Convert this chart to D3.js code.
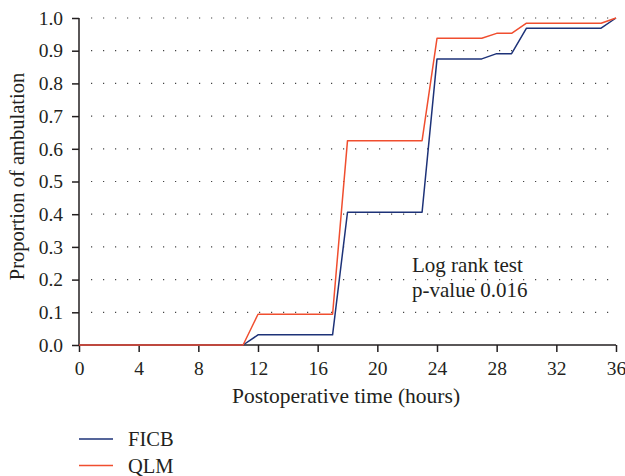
<!DOCTYPE html>
<html><head><meta charset="utf-8">
<script src="https://cdn.jsdelivr.net/npm/d3@7"></script>
<style>body{margin:0;background:#fff}svg{display:block}text{font-family:"Liberation Serif","DejaVu Serif",serif;fill:#231f20}</style>
</head><body><svg id="c" width="625" height="476"></svg>
<script>
const times = [0, 11, 12, 17, 18, 23, 24, 27, 28, 29, 30, 35, 36];
const ficb  = [0, 0, 0.031, 0.031, 0.406, 0.406, 0.875, 0.875, 0.891, 0.891, 0.969, 0.969, 1.0];
const qlm   = [0, 0, 0.094, 0.094, 0.625, 0.625, 0.938, 0.938, 0.953, 0.953, 0.984, 0.984, 1.0];
const seriesNames = ["FICB", "QLM"];
const seriesColors = ["#1d3278", "#f04e2f"];
const xTicks = [0, 4, 8, 12, 16, 20, 24, 28, 32, 36];
const yTicks = [0, 0.1, 0.2, 0.3, 0.4, 0.5, 0.6, 0.7, 0.8, 0.9, 1.0];

const svg = d3.select("#c");
const x = d3.scaleLinear().domain([0, 36]).range([79, 616]);
const y = d3.scaleLinear().domain([0, 1]).range([345, 18]);

// dotted grid
svg.append("g").selectAll("line").data(yTicks.filter(d => d > 0)).join("line")
  .attr("x1", 91).attr("x2", 612)
  .attr("y1", d => y(d)).attr("y2", d => y(d))
  .attr("stroke", "#444").attr("stroke-width", 1.2)
  .attr("stroke-dasharray", "1.2,10.8");

// axes
const xa = svg.append("g").attr("transform", "translate(0,345)")
  .call(d3.axisBottom(x).tickValues(xTicks).tickSize(7).tickPadding(9).tickFormat(d3.format("d")));
const ya = svg.append("g").attr("transform", "translate(79,0)")
  .call(d3.axisLeft(y).tickValues(yTicks).tickSize(7).tickPadding(9).tickFormat(d3.format(".1f")));
[xa, ya].forEach(a => {
  a.select(".domain").attr("stroke", "#231f20").attr("stroke-width", 1.5);
  a.selectAll(".tick line").attr("stroke", "#231f20").attr("stroke-width", 1.5);
  a.selectAll(".tick text").style("font-family", '"Liberation Serif",serif').style("font-size", "19.5px").attr("fill", "#231f20");
});
xa.select(".domain").attr("d", "M79,0H616");
ya.select(".domain").attr("d", "M0,18V345");

// lines
const line = d3.line().x((d, i) => x(times[i])).y(d => y(d));
[ficb, qlm].forEach((s, k) => {
  svg.append("path").datum(s).attr("d", line)
    .attr("fill", "none").attr("stroke", seriesColors[k]).attr("stroke-width", 1.5)
    .attr("stroke-linejoin", "round");
});

// titles
svg.append("text").attr("x", 346).attr("y", 403).attr("text-anchor", "middle")
  .style("font-size", "21.5px").text("Postoperative time (hours)");
svg.append("text").attr("transform", "translate(24,176.5) rotate(-90)").attr("text-anchor", "middle")
  .style("font-size", "20.5px").text("Proportion of ambulation");

// annotation
svg.append("text").attr("x", 412).attr("y", 272).style("font-size", "21px").text("Log rank test");
svg.append("text").attr("x", 412).attr("y", 297).style("font-size", "21px").text("p-value 0.016");

// legend
seriesNames.forEach((n, k) => {
  const ly = 439 + k * 26.5;
  svg.append("line").attr("x1", 79).attr("x2", 113).attr("y1", ly).attr("y2", ly)
    .attr("stroke", seriesColors[k]).attr("stroke-width", 1.5);
  svg.append("text").attr("x", 128).attr("y", ly + 7).style("font-size", "20.5px").text(n);
});
</script></body></html>
